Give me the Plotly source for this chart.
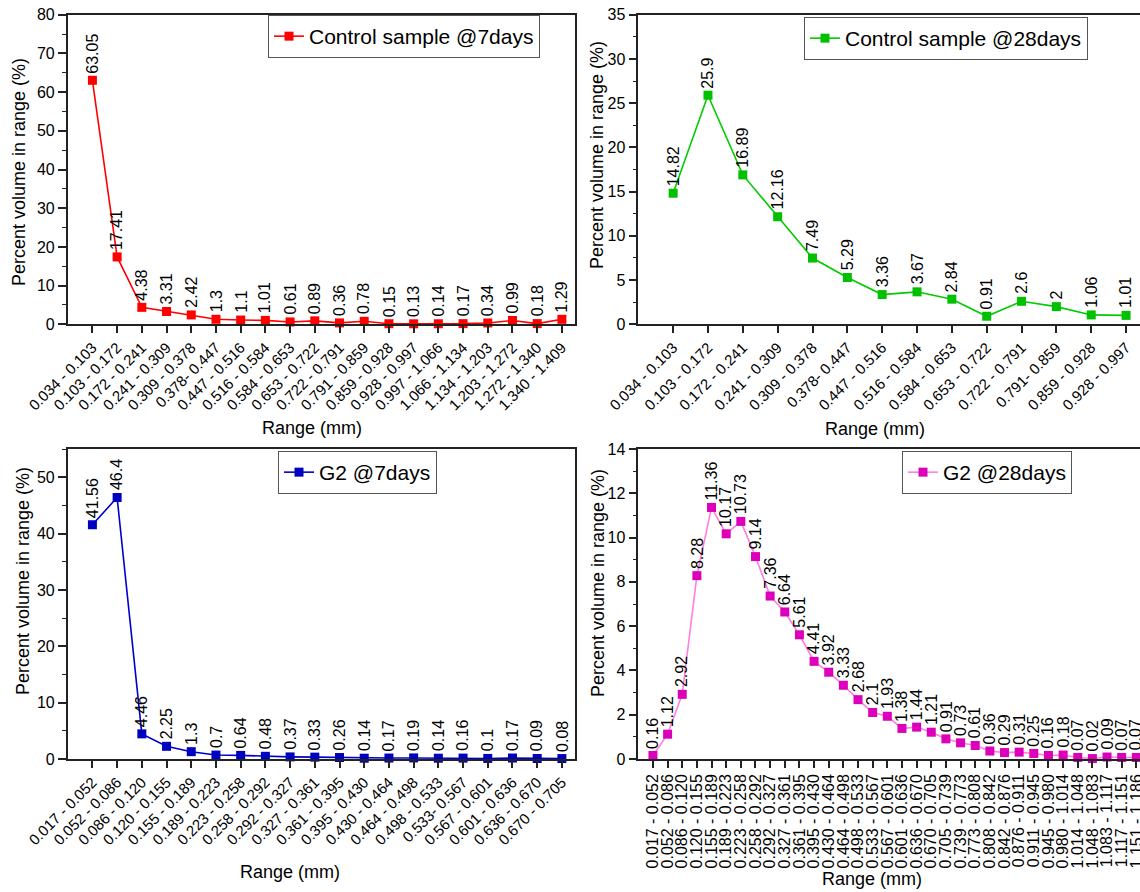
import plotly.graph_objects as go

# ---------------- data ----------------
cs7_ranges = ["0.034 - 0.103", "0.103 - 0.172", "0.172 - 0.241", "0.241 - 0.309", "0.309 - 0.378",
              "0.378- 0.447", "0.447 - 0.516", "0.516 - 0.584", "0.584 - 0.653", "0.653 - 0.722",
              "0.722 - 0.791", "0.791 - 0.859", "0.859 - 0.928", "0.928 - 0.997", "0.997 - 1.066",
              "1.066 - 1.134", "1.134 - 1.203", "1.203 - 1.272", "1.272 - 1.340", "1.340 - 1.409"]
cs7_values = [63.05, 17.41, 4.38, 3.31, 2.42, 1.3, 1.1, 1.01, 0.61, 0.89,
              0.36, 0.78, 0.15, 0.13, 0.14, 0.17, 0.34, 0.99, 0.18, 1.29]

cs28_ranges = ["0.034 - 0.103", "0.103 - 0.172", "0.172 - 0.241", "0.241 - 0.309", "0.309 - 0.378",
               "0.378- 0.447", "0.447 - 0.516", "0.516 - 0.584", "0.584 - 0.653", "0.653 - 0.722",
               "0.722 - 0.791", "0.791- 0.859", "0.859 - 0.928", "0.928 - 0.997"]
cs28_values = [14.82, 25.9, 16.89, 12.16, 7.49, 5.29, 3.36, 3.67, 2.84, 0.91, 2.6, 2, 1.06, 1.01]

g2_7_ranges = ["0.017 - 0.052", "0.052 - 0.086", "0.086 - 0.120", "0.120 - 0.155", "0.155 - 0.189",
               "0.189 - 0.223", "0.223 - 0.258", "0.258 - 0.292", "0.292 - 0.327", "0.327 - 0.361",
               "0.361 - 0.395", "0.395 - 0.430", "0.430 - 0.464", "0.464 - 0.498", "0.498 - 0.533",
               "0.533- 0.567", "0.567 - 0.601", "0.601 - 0.636", "0.636 - 0.670", "0.670 - 0.705"]
g2_7_values = [41.56, 46.4, 4.46, 2.25, 1.3, 0.7, 0.64, 0.48, 0.37, 0.33,
               0.26, 0.14, 0.17, 0.19, 0.14, 0.16, 0.1, 0.17, 0.09, 0.08]

g2_28_ranges = ["0.017 - 0.052", "0.052 - 0.086", "0.086 - 0.120", "0.120 - 0.155", "0.155 - 0.189",
                "0.189 - 0.223", "0.223 - 0.258", "0.258 - 0.292", "0.292 - 0.327", "0.327 - 0.361",
                "0.361 - 0.395", "0.395 - 0.430", "0.430 - 0.464", "0.464 - 0.498", "0.498 - 0.533",
                "0.533 - 0.567", "0.567 - 0.601", "0.601 - 0.636", "0.636 - 0.670", "0.670 - 0.705",
                "0.705 - 0.739", "0.739 - 0.773", "0.773 - 0.808", "0.808 - 0.842", "0.842 - 0.876",
                "0.876 - 0.911", "0.911 - 0.945", "0.945 - 0.980", "0.980 - 1.014", "1.014 - 1.048",
                "1.048 - 1.083", "1.083 - 1.117", "1.117 - 1.151", "1.151 - 1.186"]
g2_28_values = [0.16, 1.12, 2.92, 8.28, 11.36, 10.17, 10.73, 9.14, 7.36, 6.64,
                5.61, 4.41, 3.92, 3.33, 2.68, 2.1, 1.93, 1.38, 1.44, 1.21,
                0.91, 0.73, 0.61, 0.36, 0.29, 0.31, 0.25, 0.16, 0.18, 0.07,
                0.02, 0.09, 0.07, 0.07]

series_names = ["Control sample @7days", "Control sample @28days", "G2 @7days", "G2 @28days"]
x_title = "Range (mm)"
y_title = "Percent volume in range (%)"

# ---------------- layout helpers ----------------
W, H = 1140, 892
FONT = "Liberation Sans, Arial, sans-serif"
AX = "#222222"


def fx(p):
    return p / W


def fy(p):
    return 1 - p / H


panels = [
    dict(cats=cs7_ranges, vals=cs7_values, name=series_names[0], line="#FF0000", mk="#FF0000",
         xd=(67.7, 575), yd=(14.7, 324.3), xr=[-1, 19.53], yr=[0, 80], dt=10, mdt=5, ang=-45, tf=15,
         leg=(268, 15), xt=(312, 428), yt=(19, 172)),
    dict(cats=cs28_ranges, vals=cs28_values, name=series_names[1], line="#00CC00", mk="#00C000",
         xd=(638.3, 1140), yd=(14.7, 324.3), xr=[-1, 13.4], yr=[0, 35], dt=5, mdt=2.5, ang=-45, tf=15,
         leg=(804, 17), xt=(875, 429), yt=(597, 155)),
    dict(cats=g2_7_ranges, vals=g2_7_values, name=series_names[2], line="#0000CC", mk="#0000C0",
         xd=(67.7, 575), yd=(449, 759), xr=[-1, 19.53], yr=[0, 55], dt=10, mdt=5, ang=-45, tf=15,
         leg=(278, 451), xt=(290, 872), yt=(23, 581)),
    dict(cats=g2_28_ranges, vals=g2_28_values, name=series_names[3], line="#FF7FE0", mk="#DD00BB",
         xd=(638.3, 1140), yd=(449, 759), xr=[-1, 33.25], yr=[0, 14], dt=2, mdt=1, ang=-90, tf=16,
         leg=(902, 451), xt=(872, 879), yt=(598, 583)),
]

fig = go.Figure()
annotations = []
layout = dict(width=W, height=H, margin=dict(l=0, r=0, t=0, b=0),
              paper_bgcolor="white", plot_bgcolor="white",
              font=dict(family=FONT, size=16, color="black"), showlegend=True)

for i, p in enumerate(panels):
    k = "" if i == 0 else str(i + 1)
    xref, yref = "x" + k, "y" + k
    legname = "legend" + k
    fig.add_trace(go.Scatter(
        x=p["cats"], y=p["vals"], mode="lines+markers", name=p["name"],
        line=dict(color=p["line"], width=1.6),
        marker=dict(symbol="square", size=9, color=p["mk"], line=dict(width=0)),
        xaxis=xref, yaxis=yref, legend=legname, cliponaxis=False,
    ))
    layout["xaxis" + k] = dict(
        domain=[fx(p["xd"][0]), fx(p["xd"][1])], anchor=yref, type="category",
        range=p["xr"], tickmode="array", tickvals=p["cats"], ticktext=p["cats"],
        tickangle=p["ang"], ticks="outside", ticklen=7, tickwidth=1.5, tickcolor=AX,
        showline=True, linecolor=AX, linewidth=1.5, mirror=True, showgrid=False,
        zeroline=False, tickfont=dict(size=p["tf"], family=FONT, color="black"), automargin=False,
    )
    layout["yaxis" + k] = dict(
        domain=[fy(p["yd"][1]), fy(p["yd"][0])], anchor=xref, range=p["yr"],
        tickmode="linear", tick0=0, dtick=p["dt"], ticks="outside", ticklen=8, tickwidth=1.5,
        tickcolor=AX, showline=True, linecolor=AX, linewidth=1.5, mirror=True, showgrid=False,
        zeroline=False, tickfont=dict(size=16, family=FONT, color="black"), automargin=False,
        minor=dict(dtick=p["mdt"], ticks="outside", ticklen=4, tickwidth=1.2, tickcolor=AX, showgrid=False),
    )
    layout[legname] = dict(
        x=fx(p["leg"][0]), y=fy(p["leg"][1]), xanchor="left", yanchor="top",
        bgcolor="white", bordercolor="#555555", borderwidth=1,
        font=dict(size=21, family=FONT, color="black"), itemwidth=30,
    )
    # data labels
    for c, v in zip(p["cats"], p["vals"]):
        annotations.append(dict(
            x=c, y=v, xref=xref, yref=yref, text=f"{v:g}", showarrow=False,
            textangle=-90, xanchor="center", yanchor="bottom", yshift=5,
            font=dict(size=16, family=FONT, color="black"),
        ))
    # axis titles
    annotations.append(dict(
        x=fx(p["xt"][0]), y=fy(p["xt"][1]), xref="paper", yref="paper", text=x_title,
        showarrow=False, xanchor="center", yanchor="middle",
        font=dict(size=18, family=FONT, color="black"),
    ))
    annotations.append(dict(
        x=fx(p["yt"][0]), y=fy(p["yt"][1]), xref="paper", yref="paper", text=y_title,
        showarrow=False, xanchor="center", yanchor="middle", textangle=-90,
        font=dict(size=18, family=FONT, color="black"),
    ))

layout["annotations"] = annotations
fig.update_layout(**layout)
fig.write_html(
    "out.html",
    config={"displayModeBar": False},
    post_script="document.body.style.margin='0px';document.body.style.overflow='hidden';",
)
